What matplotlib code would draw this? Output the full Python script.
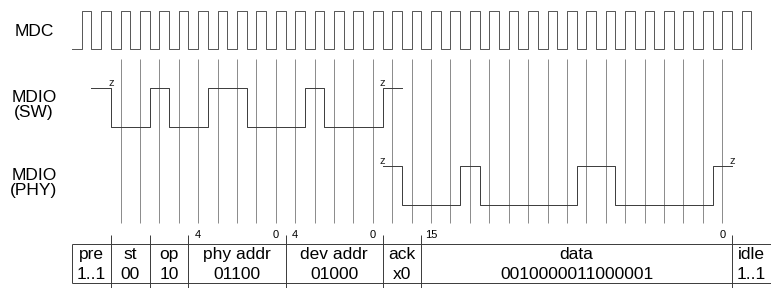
import numpy as np
import matplotlib
matplotlib.use("Agg")
import matplotlib.pyplot as plt

plt.rcParams['font.family'] = ['Liberation Sans', 'DejaVu Sans']

# MDIO clause-45 style frame, one bit per MDC cycle
fields = ['pre', 'st', 'op', 'phy addr', 'dev addr', 'ack', 'data', 'idle']
field_vals = ['1..1', '00', '10', '01100', '01000', 'x0', '0010000011000001', '1..1']
field_bits = [2, 2, 2, 5, 5, 2, 16, 2]
bit_index = {'phy addr': ('4', '0'), 'dev addr': ('4', '0'), 'data': ('15', '0')}

n_mdc = 35                                  # clock cycles drawn
sw_start = 1                                # first bit drawn on MDIO (SW)
sw_bits = 'z' + '00' + '10' + '01100' + '01000' + 'z'
sw_z_at = [2, 16]
phy_start = 16
phy_bits = 'z' + '0' + '0010000011000001'
phy_z_at = [16, 34]
ref_bits = np.arange(2, 34)                 # bits with a sampling line

BW = 19.41                                  # px per bit
X0 = 72.0                                   # px of bit 0

fig = plt.figure(figsize=(7.71, 2.88), dpi=100)
ax = fig.add_axes([0, 0, 1, 1])
ax.set_xlim(-X0/BW, (771 - X0)/BW)
ax.set_ylim(288, 0)
ax.axis('off')

sig_c = '#3a3a3a'
lw = 0.7
fs = 12.5

# MDC
x = np.arange(0, n_mdc + 0.5, 0.5)
y = [49, 11] * n_mdc + [49]
ax.step(x, y, where='post', color='#555555', lw=lw)

# sampling lines
ax.vlines(ref_bits + 0.5, 59, 223, color='#8a8a8a', lw=lw)


def draw_bits(start, bits, hi, lo, z_at):
    xs = np.arange(start, start + len(bits) + 1)
    ys = [hi if b in '1z' else lo for b in bits]
    ys.append(ys[-1])
    ax.step(xs, ys, where='post', color=sig_c, lw=lw)
    for zx in z_at:
        ax.text(zx, hi - 1.5, 'z', ha='center', va='baseline', fontsize=8, color='#222222')


draw_bits(sw_start, sw_bits, 88, 127, sw_z_at)
draw_bits(phy_start, phy_bits, 166, 205, phy_z_at)

# row labels
lx = (34 - X0)/BW
ax.text(lx, 36, 'MDC', ha='center', va='baseline', fontsize=fs)
ax.text(lx, 101.7, 'MDIO', ha='center', va='baseline', fontsize=fs)
ax.text(lx, 117.5, '(SW)', ha='center', va='baseline', fontsize=fs)
ax.text(lx, 180, 'MDIO', ha='center', va='baseline', fontsize=fs)
ax.text(lx, 195.5, '(PHY)', ha='center', va='baseline', fontsize=fs)

# frame table
edges = np.concatenate([[0], np.cumsum(field_bits)])
xr = ax.get_xlim()[1]
ax.hlines([243.5, 283], 0, xr, color=sig_c, lw=lw)
ax.vlines(0, 243.5, 283, color=sig_c, lw=lw)
ax.vlines(edges[1:-1], 235, 290, color=sig_c, lw=lw)
for name, val, a, b in zip(fields, field_vals, edges[:-1], edges[1:]):
    cx = (a + b) / 2
    ax.text(cx, 259, name, ha='center', va='baseline', fontsize=fs)
    ax.text(cx, 279, val, ha='center', va='baseline', fontsize=fs)
    if name in bit_index:
        hi_i, lo_i = bit_index[name]
        ax.text(a + 0.5, 238.5, hi_i, ha='center', va='baseline', fontsize=8)
        ax.text(b - 0.5, 238.5, lo_i, ha='center', va='baseline', fontsize=8)

fig.savefig('out.png', dpi=100)
